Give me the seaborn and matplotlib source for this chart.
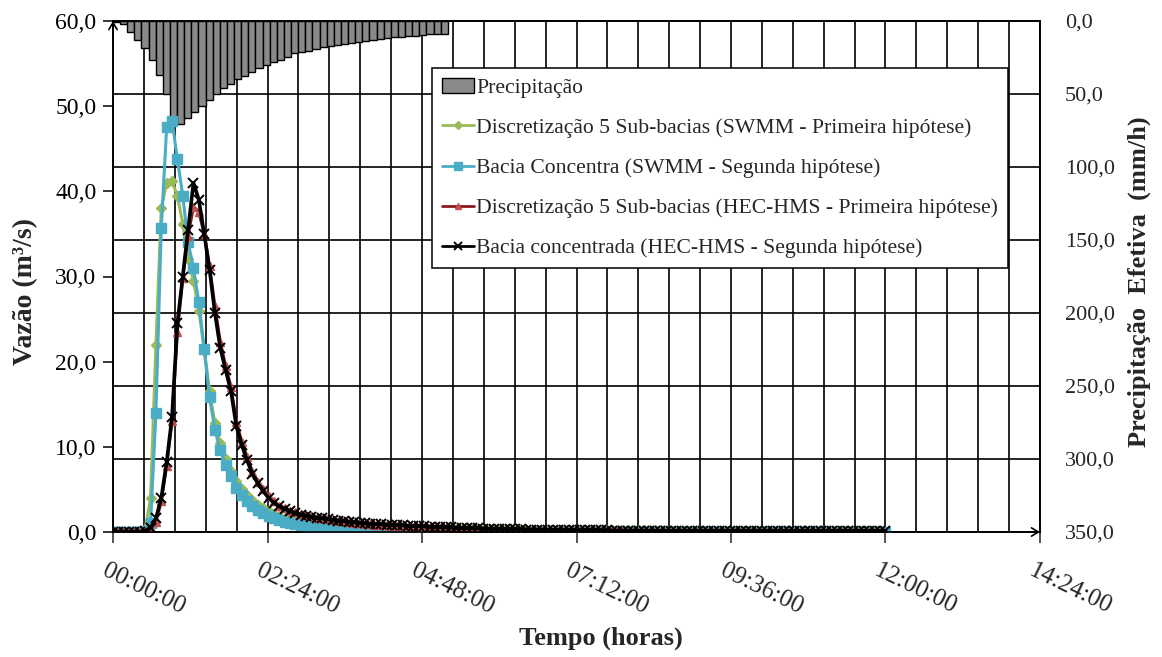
import numpy as np
import matplotlib
matplotlib.use("Agg")
import matplotlib.pyplot as plt
import seaborn as sns
from matplotlib.ticker import FixedLocator, FuncFormatter
from matplotlib.patches import Patch
from matplotlib.lines import Line2D
from matplotlib.transforms import ScaledTranslation

# ---------------- data ----------------
# effective precipitation (mm/h), one bar per interval
precip_step_min = 6.64
precip_mmh = [0.8, 2.3, 7.3, 13.0, 18.7, 26.7, 37.0, 50.2, 69.0, 70.5,
              66.6, 62.6, 58.0, 54.0, 50.2, 46.0, 43.0, 40.0, 37.5, 34.7,
              32.4, 30.1, 27.9, 26.5, 24.4, 22.0, 21.0, 20.3, 19.2, 18.0,
              17.1, 16.4, 15.8, 14.8, 14.2, 13.5, 13.0, 12.3, 11.9, 11.2,
              10.7, 10.3, 10.0, 9.6, 9.1, 8.9, 8.9]
precip_start_min = [i * precip_step_min for i in range(len(precip_mmh))]

# hydrograph time (minutes, every 5 min up to 12:00)
time_min = list(range(0, 721, 5))

q_swmm_5sub = [
    0, 0, 0, 0, 0, 0, 0.3, 4.0, 22.0, 38.0, 41.0, 41.2,
    39.5, 36.2, 32.0, 29.5, 26.0, 21.5, 16.5, 12.8, 10.4, 8.6, 7.2, 6.0,
    5.1, 4.3, 3.7, 3.2, 2.8, 2.45, 2.15, 1.9, 1.7, 1.52, 1.38, 1.25,
    1.14, 1.04, 0.95, 0.88, 0.82, 0.76, 0.71, 0.67, 0.63, 0.6, 0.57, 0.54,
    0.52, 0.5, 0.48, 0.46, 0.44, 0.42, 0.41, 0.4, 0.39, 0.38, 0.37, 0.36,
    0.35, 0.34, 0.34, 0.33, 0.32, 0.32, 0.31, 0.3, 0.3, 0.29, 0.29, 0.28,
    0.28, 0.27, 0.27, 0.26, 0.26, 0.25, 0.25, 0.25, 0.24, 0.24, 0.23, 0.23,
    0.23, 0.22, 0.22, 0.22, 0.21, 0.21, 0.21, 0.2, 0.2, 0.2, 0.2, 0.19,
    0.19, 0.19, 0.19, 0.18, 0.18, 0.18, 0.18, 0.17, 0.17, 0.17, 0.17, 0.17,
    0.16, 0.16, 0.16, 0.16, 0.16, 0.15, 0.15, 0.15, 0.15, 0.15, 0.15, 0.15,
    0.14, 0.14, 0.14, 0.14, 0.14, 0.14, 0.13, 0.13, 0.13, 0.13, 0.13, 0.13,
    0.13, 0.12, 0.12, 0.12, 0.12, 0.12, 0.12, 0.12, 0.12, 0.11, 0.11, 0.11,
    0.11]

q_swmm_conc = [
    0, 0, 0, 0, 0, 0, 0.1, 1.0, 14.0, 35.7, 47.5, 48.3,
    43.8, 39.5, 34.0, 31.0, 27.0, 21.5, 15.8, 12.0, 9.6, 7.9, 6.6, 5.2,
    4.3, 3.6, 3.0, 2.6, 2.2, 1.85, 1.6, 1.4, 1.2, 1.05, 0.9, 0.8,
    0.7, 0.62, 0.55, 0.5, 0.45, 0.4, 0.35, 0.3, 0.27, 0.23, 0.2, 0.17,
    0.15, 0.12, 0.1, 0.08, 0.07, 0.06, 0.05, 0.04, 0.03, 0.03, 0.02, 0.02,
    0.01, 0.01, 0.01, 0.01, 0.01, 0.01, 0.01, 0.01, 0.01, 0.01, 0.01, 0.01,
    0, 0, 0, 0, 0, 0, 0, 0, 0, 0, 0, 0,
    0, 0, 0, 0, 0, 0, 0, 0, 0, 0, 0, 0,
    0, 0, 0, 0, 0, 0, 0, 0, 0, 0, 0, 0,
    0, 0, 0, 0, 0, 0, 0, 0, 0, 0, 0, 0,
    0, 0, 0, 0, 0, 0, 0, 0, 0, 0, 0, 0,
    0, 0, 0, 0, 0, 0, 0, 0, 0, 0, 0, 0,
    0]

q_hms_5sub = [
    0, 0, 0, 0, 0, 0, 0, 0.3, 1.2, 3.6, 7.8, 13.0,
    23.5, 29.8, 34.8, 38.2, 37.6, 35.0, 31.2, 26.5, 22.3, 19.5, 17.0, 12.9,
    10.6, 8.8, 7.1, 5.9, 5.0, 4.2, 3.6, 3.1, 2.8, 2.5, 2.3, 2.1,
    1.95, 1.82, 1.7, 1.6, 1.5, 1.42, 1.34, 1.26, 1.18, 1.1, 1.03, 0.97,
    0.92, 0.88, 0.84, 0.8, 0.76, 0.72, 0.68, 0.64, 0.61, 0.58, 0.55, 0.52,
    0.49, 0.46, 0.44, 0.41, 0.39, 0.37, 0.35, 0.33, 0.31, 0.29, 0.27, 0.26,
    0.24, 0.23, 0.21, 0.2, 0.19, 0.18, 0.17, 0.16, 0.15, 0.14, 0.13, 0.12,
    0.12, 0.11, 0.1, 0.1, 0.09, 0.09, 0.08, 0.08, 0.07, 0.07, 0.06, 0.06,
    0.06, 0.05, 0.05, 0.05, 0.04, 0.04, 0.04, 0.04, 0.03, 0.03, 0.03, 0.03,
    0.03, 0.02, 0.02, 0.02, 0.02, 0.02, 0.02, 0.02, 0.02, 0.02, 0.02, 0.02,
    0.02, 0.01, 0.01, 0.01, 0.01, 0.01, 0.01, 0.01, 0.01, 0.01, 0.01, 0.01,
    0.01, 0.01, 0.01, 0.01, 0.01, 0.01, 0.01, 0.01, 0.01, 0.01, 0.01, 0.01,
    0.01]

q_hms_conc = [
    0, 0, 0, 0, 0, 0, 0.1, 0.5, 1.6, 4.0, 8.2, 13.5,
    24.5, 30.0, 35.5, 41.0, 39.0, 35.0, 30.8, 25.7, 21.6, 19.0, 16.5, 12.4,
    10.2, 8.4, 6.8, 5.7, 4.8, 4.0, 3.4, 3.0, 2.7, 2.45, 2.25, 2.05,
    1.9, 1.8, 1.7, 1.6, 1.5, 1.42, 1.35, 1.28, 1.2, 1.12, 1.05, 1.0,
    0.96, 0.93, 0.9, 0.87, 0.84, 0.81, 0.78, 0.75, 0.72, 0.69, 0.66, 0.63,
    0.6, 0.58, 0.55, 0.53, 0.5, 0.48, 0.46, 0.44, 0.42, 0.4, 0.38, 0.37,
    0.35, 0.34, 0.33, 0.31, 0.3, 0.29, 0.28, 0.27, 0.26, 0.25, 0.24, 0.23,
    0.22, 0.22, 0.21, 0.2, 0.2, 0.19, 0.19, 0.18, 0.18, 0.17, 0.17, 0.16,
    0.16, 0.16, 0.15, 0.15, 0.15, 0.14, 0.14, 0.14, 0.13, 0.13, 0.13, 0.13,
    0.12, 0.12, 0.12, 0.12, 0.11, 0.11, 0.11, 0.11, 0.11, 0.1, 0.1, 0.1,
    0.1, 0.1, 0.1, 0.09, 0.09, 0.09, 0.09, 0.09, 0.09, 0.08, 0.08, 0.08,
    0.08, 0.08, 0.08, 0.08, 0.07, 0.07, 0.07, 0.07, 0.07, 0.07, 0.07, 0.07,
    0.06]

labels = ["Precipitação",
          "Discretização 5 Sub-bacias (SWMM - Primeira hipótese)",
          "Bacia Concentra (SWMM - Segunda hipótese)",
          "Discretização 5 Sub-bacias (HEC-HMS - Primeira hipótese)",
          "Bacia concentrada (HEC-HMS - Segunda hipótese)"]

x_major_ticks = [0, 144, 288, 432, 576, 720, 864]
left_ticks = [0, 10, 20, 30, 40, 50, 60]
right_ticks = [0, 50, 100, 150, 200, 250, 300, 350]

# ---------------- style ----------------
sns.set_style("white")
plt.rcParams["font.family"] = ["Liberation Serif", "DejaVu Serif"]

W, H = 1162, 657
fig = plt.figure(figsize=(W / 100, H / 100), dpi=100)
L, R, T, B = 113, 1040, 21, 532
ax = fig.add_axes([L / W, 1 - B / H, (R - L) / W, (B - T) / H])
ax2 = ax.twinx()

# right axis: precipitation bars hanging from top
ax2.set_ylim(350, 0)
ax2.set_xlim(0, 864)
ax2.bar(precip_start_min, precip_mmh, width=precip_step_min, align="edge",
        color="#8a8a8a", edgecolor="black", linewidth=1.0, zorder=3)
ax2.yaxis.set_major_locator(FixedLocator(right_ticks))
ax2.yaxis.set_major_formatter(FuncFormatter(lambda v, p: f"{v:.1f}".replace(".", ",")))
ax2.grid(axis="y", color="black", linewidth=1.2)
ax2.set_axisbelow(True)
for xv in np.arange(0, 864.01, 28.8):
    ax2.axvline(xv, color="black", linewidth=1.2, zorder=0.5)
ax2.tick_params(axis="y", length=0, pad=18, labelsize=16)
ax2.set_ylabel("Precipitação  Efetiva  (mm/h)", fontsize=19, fontweight="bold")
ax2.yaxis.set_label_coords((1128 - L) / (R - L), 0.49)

# left axis: hydrographs
ax.set_zorder(ax2.get_zorder() + 1)
ax.patch.set_visible(False)
series = [
    (q_swmm_5sub, "#9BBB59", "#9BBB59", "D", 5.0, 1.0, 2.2, labels[1]),
    (q_swmm_conc, "#4BACC6", "#4BACC6", "s", 6.5, 1.0, 2.2, labels[2]),
    (q_hms_5sub, "#8B1A1A", "#C0504D", "^", 5.5, 1.0, 2.2, labels[3]),
    (q_hms_conc, "black", "black", "x", 7.0, 1.4, 2.6, labels[4]),
]
for vals, lc, mc, mk, ms, mew, lw, lab in series:
    sns.lineplot(x=time_min, y=vals, ax=ax, color=lc, linewidth=lw,
                 marker=mk, markersize=ms, markerfacecolor=mc,
                 markeredgecolor=mc, markeredgewidth=mew, legend=False)

ax.set_xlim(0, 864)
ax.set_ylim(0, 60)
ax.xaxis.set_major_locator(FixedLocator(x_major_ticks))
ax.xaxis.set_major_formatter(FuncFormatter(
    lambda m, p: f"{int(m // 60):02d}:{int(round(m % 60)):02d}:00"))
ax.yaxis.set_major_locator(FixedLocator(left_ticks))
ax.yaxis.set_major_formatter(FuncFormatter(lambda v, p: f"{v:.1f}".replace(".", ",")))
ax.tick_params(axis="y", direction="out", length=7, width=1.1, pad=5,
               labelsize=17, left=True, colors="black")
ax.tick_params(axis="x", direction="out", length=8, width=1.1, pad=12,
               labelsize=18, bottom=True)
for lab in ax.get_xticklabels():
    lab.set_rotation(-26)
    lab.set_ha("left")
    lab.set_va("top")
    lab.set_rotation_mode("anchor")
    lab.set_transform(lab.get_transform() + ScaledTranslation(-0.05, 0, fig.dpi_scale_trans))

ax.set_xlabel("Tempo (horas)", fontsize=19, fontweight="bold")
ax.xaxis.set_label_coords((601 - L) / (R - L), (B - 627) / (B - T))
ax.set_ylabel("Vazão (m³/s)", fontsize=20, fontweight="bold")
ax.yaxis.set_label_coords((38 - L) / (R - L), 0.47)

for a in (ax, ax2):
    for s in a.spines.values():
        s.set_color("black")
        s.set_linewidth(1.2)

# axis arrows
ax.annotate("", xy=(0, 1.0), xycoords="axes fraction", xytext=(0, 0.96),
            arrowprops=dict(arrowstyle="->,head_length=0.5,head_width=0.3",
                            color="black", lw=1.2, shrinkA=0, shrinkB=0))
ax.annotate("", xy=(1.0, 0), xycoords="axes fraction", xytext=(0.98, 0),
            arrowprops=dict(arrowstyle="->,head_length=0.5,head_width=0.3",
                            color="black", lw=1.2, shrinkA=0, shrinkB=0))

# legend
handles = [Patch(facecolor="#8a8a8a", edgecolor="black", linewidth=1.0)]
for vals, lc, mc, mk, ms, mew, lw, lab in series:
    handles.append(Line2D([], [], color=lc, linewidth=2.0, marker=mk, markersize=ms * 0.8,
                          markerfacecolor=mc, markeredgecolor=mc, markeredgewidth=mew))
leg = ax.legend(handles, labels, loc="upper left",
                bbox_to_anchor=((432 - L) / (R - L), (B - 68) / (B - T)),
                borderaxespad=0, frameon=True, fancybox=False, fontsize=15.6,
                handlelength=1.5, handletextpad=0.1, labelspacing=0.92,
                borderpad=0.45, framealpha=1, edgecolor="black")
leg.get_frame().set_linewidth(1.1)
leg.set_zorder(10)

fig.savefig("out.png", dpi=100)
